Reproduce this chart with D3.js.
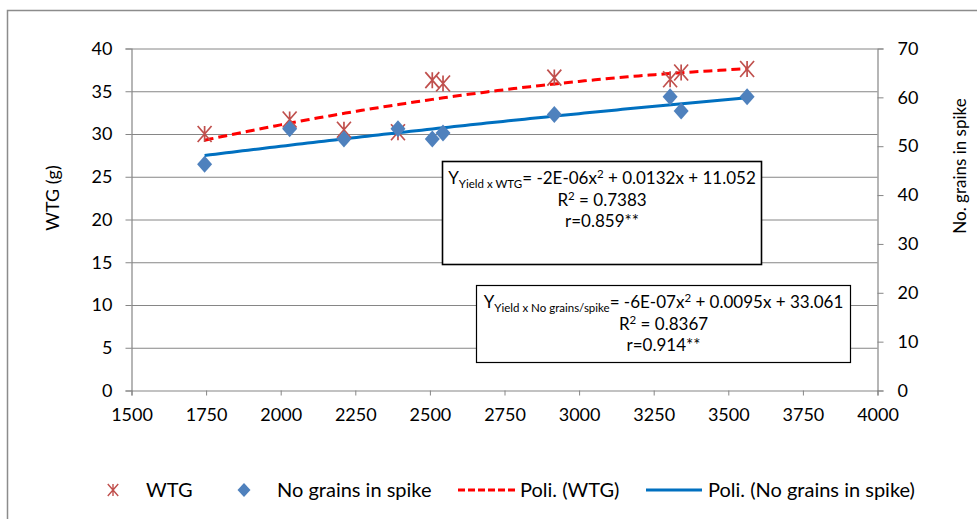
<!DOCTYPE html>
<html>
<head>
<meta charset="utf-8">
<script src="https://cdn.jsdelivr.net/npm/d3@7"></script>
<style>
  body { margin: 0; background: #fff; }
  svg { display: block; font-family: Lato, "Open Sans", sans-serif; }
</style>
</head>
<body>
<svg id="chart" width="977" height="519"></svg>
<script>
// data
var yieldVals = [1745, 2030, 2212, 2393, 2508, 2544, 2917, 3305, 3342, 3563];
var wtgVals = [30.0, 31.7, 30.5, 30.2, 36.3, 35.9, 36.6, 36.4, 37.2, 37.6];
var grainVals = [46.3, 53.6, 51.5, 53.6, 51.5, 52.7, 56.5, 60.1, 57.2, 60.1];
var xTicks = [1500, 1750, 2000, 2250, 2500, 2750, 3000, 3250, 3500, 3750, 4000];
var leftTicks = [0, 5, 10, 15, 20, 25, 30, 35, 40];
var rightTicks = [0, 10, 20, 30, 40, 50, 60, 70];

var svg = d3.select("#chart"),
  width = +svg.attr("width"),
  height = +svg.attr("height");

var gridColor = "#868686";
var starColor = "#C0504D", diamondColor = "#4F81BD";

var x = d3.scaleLinear().domain([1500, 4000]).range([131.5, 877.5]);
var yL = d3.scaleLinear().domain([0, 40]).range([390.5, 48.5]);
var yR = d3.scaleLinear().domain([0, 70]).range([390.5, 48.5]);

// outer chart frame (only top and left edges are inside the picture)
svg.append("rect")
  .attr("x", 7.5).attr("y", 10.5)
  .attr("width", 1000).attr("height", 600)
  .attr("fill", "none").attr("stroke", "#8c8c8c").attr("stroke-width", 1.5);

// horizontal gridlines
svg.append("g")
  .attr("transform", "translate(" + x.range()[0] + ",0)")
  .call(d3.axisLeft(yL).tickValues(leftTicks.slice(1)).tickSize(-(x.range()[1] - x.range()[0])).tickFormat(""))
  .call(function(g) { g.select(".domain").remove(); })
  .selectAll("line").attr("stroke", gridColor);

// left axis
var axL = svg.append("g")
  .attr("transform", "translate(" + x.range()[0] + ",0)")
  .call(d3.axisLeft(yL).tickValues(leftTicks).tickSize(6).tickPadding(13));
// right axis
var axR = svg.append("g")
  .attr("transform", "translate(" + x.range()[1] + ",0)")
  .call(d3.axisRight(yR).tickValues(rightTicks).tickSize(6).tickPadding(14));
// bottom axis
var axB = svg.append("g")
  .attr("transform", "translate(0," + yL.range()[0] + ")")
  .call(d3.axisBottom(x).tickValues(xTicks).tickFormat(d3.format("d")).tickSize(5).tickPadding(16));

[axL, axR, axB].forEach(function(ax) {
  ax.select(".domain").attr("stroke", gridColor).attr("stroke-width", 1.2);
  ax.selectAll(".tick line").attr("stroke", gridColor);
  ax.selectAll("text").attr("fill", "#000").style("font-size", "18px").style("font-family", "Lato");
});
axB.selectAll("text").attr("dy", "0.5em");

// axis titles
svg.append("text")
  .attr("transform", "translate(59,198) rotate(-90)")
  .attr("text-anchor", "middle")
  .style("font-size", "18px")
  .text("WTG (g)");
svg.append("text")
  .attr("transform", "translate(966,166) rotate(-90)")
  .attr("text-anchor", "middle")
  .style("font-size", "17px")
  .text("No. grains in spike");

// quadratic least-squares fit, like the spreadsheet trendline
function polyFit(xs, ys) {
  var s = [0, 0, 0, 0, 0], t = [0, 0, 0];
  xs.forEach(function(xv, i) {
    for (var k = 0; k < 5; k++) s[k] += Math.pow(xv, k);
    for (var j = 0; j < 3; j++) t[j] += ys[i] * Math.pow(xv, j);
  });
  var m = [[s[0], s[1], s[2], t[0]], [s[1], s[2], s[3], t[1]], [s[2], s[3], s[4], t[2]]];
  for (var c = 0; c < 3; c++) {
    for (var r = c + 1; r < 3; r++) {
      var f = m[r][c] / m[c][c];
      for (var q = c; q < 4; q++) m[r][q] -= f * m[c][q];
    }
  }
  var b = [0, 0, 0];
  for (var r2 = 2; r2 >= 0; r2--) {
    var sum = m[r2][3];
    for (var q2 = r2 + 1; q2 < 3; q2++) sum -= m[r2][q2] * b[q2];
    b[r2] = sum / m[r2][r2];
  }
  return function(xv) { return b[0] + b[1] * xv + b[2] * xv * xv; };
}

var fitW = polyFit(yieldVals, wtgVals);
var fitG = polyFit(yieldVals, grainVals);
var xs = d3.range(0, 101).map(function(i) {
  var lo = d3.min(yieldVals), hi = d3.max(yieldVals);
  return lo + (hi - lo) * i / 100;
});

// equation boxes (drawn before marks, behind them)
function eqBox(bx, by, bw, bh, sw, sub, eq1, eq2, r2, rtxt) {
  var g = svg.append("g");
  g.append("rect")
    .attr("x", bx).attr("y", by).attr("width", bw).attr("height", bh)
    .attr("fill", "#fff").attr("stroke", "#000").attr("stroke-width", sw);
  var cx = bx + bw / 2;
  var t1 = g.append("text").attr("x", cx).attr("y", by + 22)
    .attr("text-anchor", "middle").style("font-size", "17px");
  t1.append("tspan").text("Y");
  t1.append("tspan").attr("dy", 4).style("font-size", "11.5px").text(sub);
  t1.append("tspan").attr("dy", -4).text(eq1);
  t1.append("tspan").attr("dy", -6).style("font-size", "11.5px").text("2");
  t1.append("tspan").attr("dy", 6).text(eq2);
  var t2 = g.append("text").attr("x", cx).attr("y", by + 44)
    .attr("text-anchor", "middle").style("font-size", "17px");
  t2.append("tspan").text("R");
  t2.append("tspan").attr("dy", -6).style("font-size", "11.5px").text("2");
  t2.append("tspan").attr("dy", 6).text(" = " + r2);
  g.append("text").attr("x", cx).attr("y", by + 65)
    .attr("text-anchor", "middle").style("font-size", "17px").text(rtxt);
}
eqBox(442.5, 161.5, 319, 103, 1.6, "Yield x WTG", "= -2E-06x", " + 0.0132x + 11.052", "0.7383", "r=0.859**");
eqBox(476.5, 285.5, 374, 77, 1.2, "Yield x No grains/spike", "= -6E-07x", " + 0.0095x + 33.061", "0.8367", "r=0.914**");

// trend lines
svg.append("path")
  .datum(xs)
  .attr("fill", "none").attr("stroke", "#FF0000").attr("stroke-width", 3)
  .attr("stroke-dasharray", "9,5")
  .attr("d", d3.line().x(function(d) { return x(d); }).y(function(d) { return yL(fitW(d)); }));
svg.append("path")
  .datum(xs)
  .attr("fill", "none").attr("stroke", "#0070C0").attr("stroke-width", 3)
  .attr("d", d3.line().x(function(d) { return x(d); }).y(function(d) { return yR(fitG(d)); }));

// marker shapes
function starPath(r) {
  var h = r * 0.87;
  return "M" + (-h) + "," + (-r) + "L" + h + "," + r +
    "M" + h + "," + (-r) + "L" + (-h) + "," + r +
    "M0," + (-r) + "L0," + r;
}
function diamondPath(w, h) {
  return "M0," + (-h) + "L" + w + ",0L0," + h + "L" + (-w) + ",0Z";
}

svg.append("g").selectAll("path")
  .data(yieldVals)
  .enter().append("path")
  .attr("transform", function(d, i) { return "translate(" + x(d) + "," + yL(wtgVals[i]) + ")"; })
  .attr("d", starPath(8))
  .attr("fill", "none").attr("stroke", starColor).attr("stroke-width", 1.7);

svg.append("g").selectAll("path")
  .data(yieldVals)
  .enter().append("path")
  .attr("transform", function(d, i) { return "translate(" + x(d) + "," + yR(grainVals[i]) + ")"; })
  .attr("d", diamondPath(7.5, 8.5))
  .attr("fill", diamondColor);

// legend
var ly = 490;
var leg = svg.append("g").style("font-size", "20px");
leg.append("path").attr("transform", "translate(113," + ly + ")")
  .attr("d", starPath(6)).attr("fill", "none").attr("stroke", starColor).attr("stroke-width", 1.4);
leg.append("text").attr("x", 146).attr("y", ly + 7).text("WTG");
leg.append("path").attr("transform", "translate(244," + ly + ")")
  .attr("d", diamondPath(6.5, 7)).attr("fill", diamondColor);
leg.append("text").attr("x", 277).attr("y", ly + 7).text("No grains in spike");
leg.append("line").attr("x1", 458).attr("x2", 515).attr("y1", ly).attr("y2", ly)
  .attr("stroke", "#FF0000").attr("stroke-width", 3).attr("stroke-dasharray", "7,3");
leg.append("text").attr("x", 520).attr("y", ly + 7).text("Poli. (WTG)");
leg.append("line").attr("x1", 646).attr("x2", 702).attr("y1", ly).attr("y2", ly)
  .attr("stroke", "#0070C0").attr("stroke-width", 3);
leg.append("text").attr("x", 708).attr("y", ly + 7).text("Poli. (No grains in spike)");
</script>
</body>
</html>
